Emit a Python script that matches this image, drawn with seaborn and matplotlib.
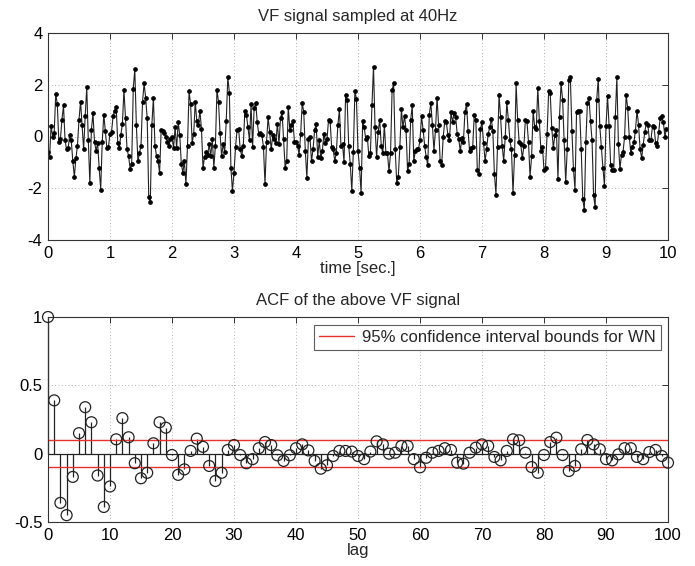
import numpy as np
import pandas as pd
import matplotlib
matplotlib.use("Agg")
import matplotlib.pyplot as plt
import seaborn as sns

fs = 40  # sampling rate [Hz]

sig_0 = [-0.6, -0.8, 0.4, 0.0, 0.15, 1.65, 1.25, -0.2, -0.1, 0.65, 1.2, -0.15, -0.5, -0.45, 0.05, -0.15, -0.95, -1.55, -0.85, -0.35,
         0.65, 1.35, 0.45, -0.5, 0.8, 1.9, -0.15, -1.8, 0.25, 0.9, -0.2, -0.55, -0.25, -1.2, -2.05, -0.2, 0.85, 0.2, -0.45, -0.4]
sig_1 = [0.1, 0.17, 0.8, 1.0, 1.15, -0.25, -0.45, 0.05, 0.5, 1.8, 0.7, -0.5, -0.75, -1.25, -1.05, 1.85, 2.6, 0.45, -0.95, -0.65,
         -0.35, 1.35, 2.05, 1.5, 0.7, -2.35, -2.55, 0.45, 1.5, -0.35, -0.75, -0.95, -1.4, 0.25, 0.2, 0.13, 0.0, -0.2, -0.35, -0.1]
sig_2 = [0.0, -0.45, 0.35, -0.45, 0.55, 0.05, -1.05, -1.4, -0.95, -1.85, -0.35, 1.75, 1.25, -0.25, 0.1, 1.35, 0.6, 0.45, 1.0, 0.3,
         -1.2, -0.8, -0.6, -0.7, -0.3, -0.75, -0.1, -1.2, -0.35, 1.8, 1.35, 0.13, -0.75, -0.3, -0.6, 0.6, 2.3, 1.7, -1.2, -2.1]
sig_3 = [-1.4, -0.4, 0.25, 0.3, -0.5, -0.75, -0.35, 1.0, 0.85, 0.35, -0.15, 1.25, -0.4, 1.1, 1.3, 0.55, 0.08, 0.13, 0.05, -0.4,
         -1.85, -0.2, 0.75, 0.17, -0.5, 0.05, -0.1, -0.25, 0.5, -0.3, 0.7, 0.95, -0.1, -1.2, -0.95, 1.15, 0.27, 0.43, 0.6, -0.2]
sig_4 = [-0.2, -0.35, -0.7, 0.08, 1.3, 0.95, -0.55, -1.6, -0.1, 0.0, -0.95, -0.5, 0.25, 0.5, -0.8, -0.15, -0.85, -0.55, 0.1, -0.25,
         -0.1, 0.65, 0.6, -0.4, -0.5, -0.95, -0.65, 0.43, 1.05, -0.35, -0.3, -1.0, 1.6, 1.4, -0.35, -1.05, -2.1, -0.6, 1.75, 1.45]
sig_5 = [-0.55, -1.2, -2.2, 0.6, 0.35, -0.1, 0.0, -0.75, -0.65, 1.2, 2.7, 0.35, -0.8, 0.17, 0.65, -0.35, -0.65, 0.45, -0.65, -0.65,
         -1.35, -0.65, 1.8, 2.05, -0.5, -1.8, -1.55, -0.4, 1.05, 0.35, 0.8, 0.25, -1.35, -1.05, 0.65, 1.2, -0.95, -0.55, -0.5, -0.5]
sig_6 = [-0.13, 0.78, 0.27, -0.35, -0.8, -1.1, 0.85, 1.3, 0.45, -0.55, 0.27, 1.5, 0.45, -0.95, -1.1, 0.0, 0.6, 0.55, 0.05, -0.15,
         0.95, 0.55, 0.9, 0.75, 0.1, -0.1, -0.57, -0.05, -0.2, 0.95, 1.25, 0.23, -0.57, -0.45, -0.4, 0.85, 0.65, -1.3, -1.45, 0.3]
sig_7 = [0.55, -0.25, -0.95, -0.48, 0.1, 0.36, 0.68, 0.23, -1.45, -2.25, -0.4, 1.6, 0.77, -0.35, -0.95, 0.0, 1.33, 0.65, -0.15, -0.5,
         -2.2, -0.7, 2.05, 0.65, -0.22, -0.28, -0.85, -0.38, 0.65, 0.58, -0.22, -1.55, -0.77, 1.0, 0.36, 0.3, 1.88, 0.6, -0.55, -0.4]
sig_8 = [-1.3, -1.2, 0.08, 1.75, 1.68, 0.34, -0.45, 0.04, 0.27, -1.65, 0.77, 2.05, 1.42, -0.13, -1.77, -0.48, 2.2, 2.3, 0.23, -1.25,
         -2.05, 0.95, 0.98, 0.98, -0.48, -2.4, -2.85, -0.2, 1.3, 1.5, 0.6, -0.15, -2.28, -2.73, 1.42, 2.23, 0.4, -0.4, -1.2, -1.9]
sig_9 = [0.4, 1.55, 0.4, -1.1, -1.3, -1.3, 0.75, 2.3, -0.28, -1.25, -0.7, -0.6, 0.0, 1.6, 1.1, 0.0, -0.65, -0.4, -0.22, 0.23,
         1.0, 0.45, -0.48, -0.83, -0.32, 0.17, 0.52, 0.45, -0.13, -0.13, 0.4, 0.36, -0.25, -0.35, 0.17, 0.72, 0.8, 0.55, 0.0, 0.3]

acf_vals = [1.0, 0.39, -0.36, -0.45, -0.17, 0.15, 0.34, 0.23, -0.16, -0.39,
            -0.24, 0.105, 0.26, 0.12, -0.07, -0.18, -0.14, 0.076, 0.23, 0.19,
            -0.01, -0.155, -0.115, 0.02, 0.11, 0.05, -0.09, -0.2, -0.14, 0.027,
            0.063, -0.01, -0.07, -0.04, 0.04, 0.085, 0.063, -0.012, -0.053, -0.012,
            0.04, 0.068, 0.024, -0.053, -0.11, -0.085, -0.017, 0.02, 0.02, 0.015,
            -0.017, -0.04, 0.015, 0.09, 0.068, 0.0, 0.007, 0.056, 0.056, -0.04,
            -0.10, -0.03, 0.007, 0.02, 0.04, 0.027, -0.066, -0.073, 0.007, 0.044,
            0.068, 0.056, -0.024, -0.049, 0.02, 0.105, 0.098, 0.007, -0.098, -0.14,
            -0.01, 0.085, 0.117, -0.01, -0.127, -0.09, 0.032, 0.1, 0.068, 0.032,
            -0.04, -0.049, -0.005, 0.04, 0.04, -0.024, -0.04, 0.012, 0.027, -0.017,
            -0.066]
conf_bound = 0.098

top_xticks = list(range(0, 11))
top_yticks = [-4, -2, 0, 2, 4]
acf_xticks = list(range(0, 101, 10))
acf_yticks = [-0.5, 0, 0.5, 1]
acf_yticklabels = ["-0.5", "0", "0.5", "1"]

signal = np.array(sig_0 + sig_1 + sig_2 + sig_3 + sig_4 + sig_5 + sig_6 + sig_7 + sig_8 + sig_9)
df_sig = pd.DataFrame({"t": np.arange(len(signal)) / fs, "v": signal})
df_acf = pd.DataFrame({"lag": np.arange(len(acf_vals)), "acf": acf_vals})

sns.set_style("white")
plt.rcParams["font.family"] = ["Liberation Sans", "DejaVu Sans"]
plt.rcParams["axes.unicode_minus"] = False
plt.rcParams["font.size"] = 12

FS = 12
W, H = 695, 566
fig = plt.figure(figsize=(W / 100, H / 100), dpi=100)
fig.patch.set_facecolor("white")

def style_axes(ax):
    for s in ax.spines.values():
        s.set_color("#333333")
        s.set_linewidth(0.8)
        s.set_visible(True)
    ax.tick_params(direction="in", top=True, right=True, length=4, width=0.7,
                   color="#333333", labelsize=FS, labelcolor="black", pad=4)
    ax.grid(True, linestyle=(0, (1, 3)), color="#999999", linewidth=0.6)
    ax.set_axisbelow(True)

# Top: signal
ax1 = fig.add_axes([48 / W, 1 - 240 / H, 620 / W, 207 / H])
sns.lineplot(data=df_sig, x="t", y="v", ax=ax1, color="#222222", linewidth=0.8,
             marker="o", markersize=2.6, markeredgecolor="black", markerfacecolor="black")
ax1.set_xlim(0, 10)
ax1.set_ylim(-4, 4)
ax1.set_xticks(top_xticks)
ax1.set_yticks(top_yticks)
ax1.set_xlabel("time [sec.]", fontsize=FS, labelpad=0)
ax1.set_ylabel("")
ax1.set_title("VF signal sampled at 40Hz", fontsize=FS, pad=9)
style_axes(ax1)

# Bottom: ACF
ax2 = fig.add_axes([48 / W, 1 - 522 / H, 620 / W, 205 / H])
ax2.vlines(df_acf["lag"], 0, df_acf["acf"], color="#222222", linewidth=0.9)
ax2.axhline(0, color="#222222", linewidth=0.9)
ax2.axhline(conf_bound, color="#e8322d", linewidth=1.0,
            label="95% confidence interval bounds for WN")
ax2.axhline(-conf_bound, color="#e8322d", linewidth=1.0)
sns.scatterplot(data=df_acf, x="lag", y="acf", ax=ax2, marker="o", s=62,
                facecolor="none", edgecolor="#222222", linewidth=0.9, zorder=3)
ax2.set_xlim(0, 100)
ax2.set_ylim(-0.5, 1)
ax2.set_xticks(acf_xticks)
ax2.set_yticks(acf_yticks)
ax2.set_yticklabels(acf_yticklabels)
ax2.set_xlabel("lag", fontsize=FS, labelpad=0)
ax2.set_ylabel("")
ax2.set_title("ACF of the above VF signal", fontsize=FS, pad=9)
style_axes(ax2)
for c in ax2.collections:
    c.set_clip_on(False)
leg = ax2.legend(loc="upper right", fontsize=FS, frameon=True, fancybox=False,
                 handlelength=2.1, handletextpad=0.45, borderpad=0.3,
                 borderaxespad=0.45)
leg.get_frame().set_edgecolor("#333333")
leg.get_frame().set_linewidth(0.8)

fig.savefig("out.png", dpi=100, facecolor="white")
